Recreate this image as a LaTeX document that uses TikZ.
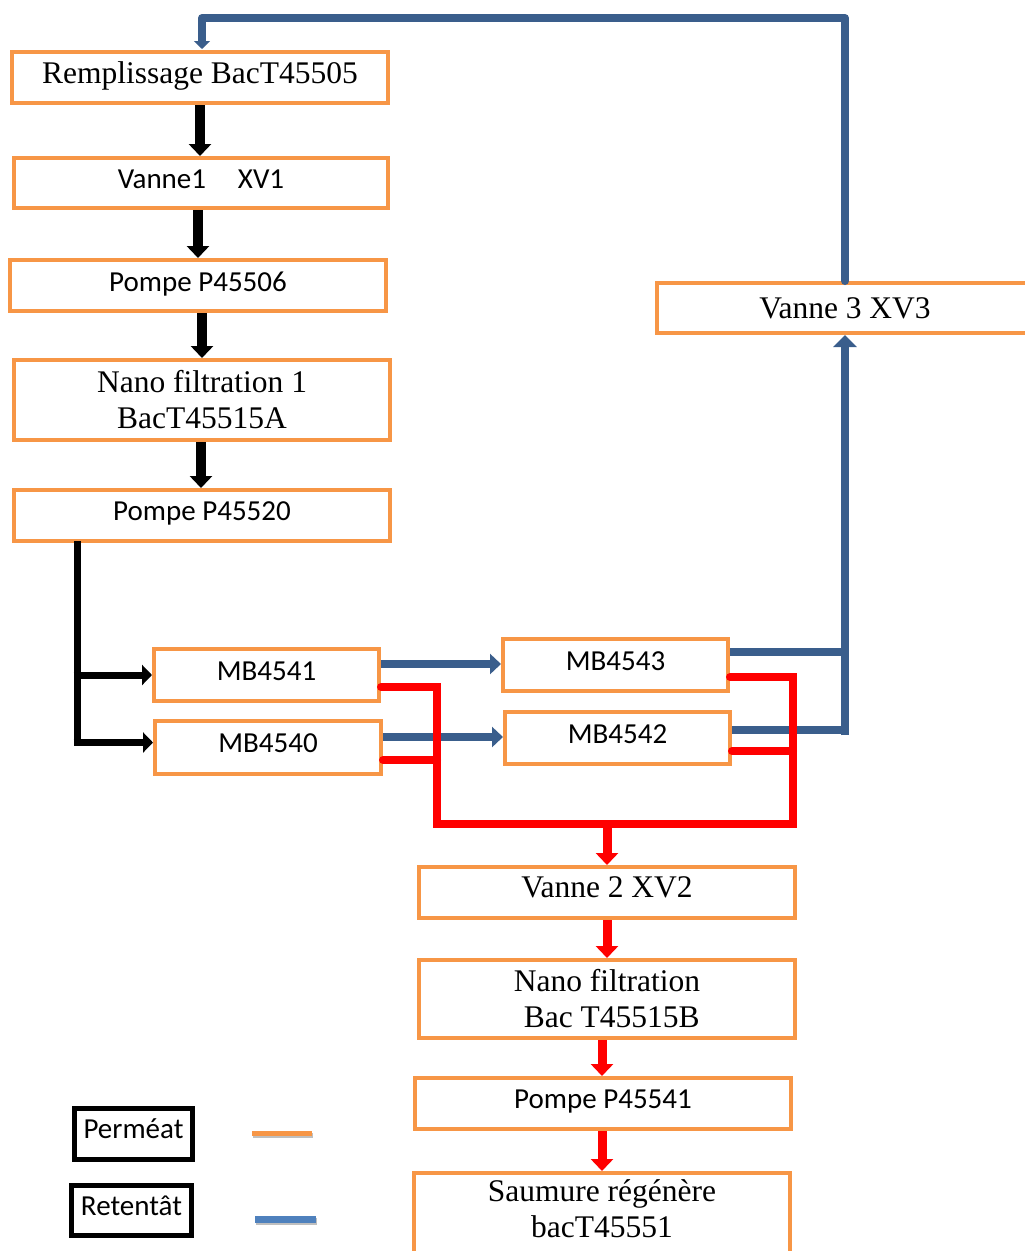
\documentclass[tikz,border=0pt]{standalone}
\usepackage{fontspec}
\setmainfont{Liberation Serif}
\newfontfamily\calfont{Carlito}
\usetikzlibrary{arrows.meta,calc}
\definecolor{orng}{RGB}{247,150,70}
\definecolor{dblue}{RGB}{58,94,140}
\definecolor{lblue}{RGB}{79,129,189}
\definecolor{rred}{RGB}{255,0,0}
\tikzset{
  box/.style={draw=orng, line width=4pt, fill=white, inner sep=0pt, align=center, minimum width=376pt, minimum height=51pt},
  serif/.style={font=\fontsize{31.5}{36}\selectfont},
  sans/.style={font=\calfont\fontsize{29}{34}\selectfont, text depth=8pt},
  legbox/.style={draw=black, line width=5pt, fill=white, inner sep=0pt, font=\calfont\fontsize{29}{34}\selectfont, text depth=10pt},
  blk/.style={draw=black, line width=10pt, -{Triangle[width=22pt,length=12pt]}},
  blkb/.style={draw=black, line width=7pt},
  blkbar/.style={draw=black, line width=7pt, -{Triangle[width=20pt,length=10pt]}},
  blu/.style={draw=dblue, line width=8pt},
  bluar/.style={draw=dblue, line width=8pt, -{Triangle[width=20pt,length=11pt]}},
  redl/.style={draw=rred, line width=8pt, line cap=round},
  redar/.style={draw=rred, line width=9pt, -{Triangle[width=22pt,length=12pt]}},
}
\begin{document}
\begin{tikzpicture}[x=1pt,y=-1pt]
\useasboundingbox (0,0) rectangle (1025,1251);
% nodes
\node[box, serif, minimum height=51pt, text depth=9pt] (rem) at (200,77.5) {Remplissage BacT45505};
\node[box, sans, minimum width=374pt, minimum height=50pt] (v1) at (201,183) {Vanne1\hspace{1.1em}XV1};
\node[box, sans] (p06) at (198,285.5) {Pompe P45506};
\node[box, serif, minimum height=80pt] (nf1) at (202,400) {Nano filtration 1\\BacT45515A};
\node[box, sans] (p20) at (202,515.5) {Pompe P45520};
\node[box, sans, minimum width=225pt, minimum height=52pt] (m41) at (266.5,675) {MB4541};
\node[box, sans, minimum width=226pt, minimum height=53pt] (m40) at (268,747.5) {MB4540};
\node[box, sans, minimum width=225pt, minimum height=52pt] (m43) at (615.5,665) {MB4543};
\node[box, sans, minimum width=225pt, minimum height=52pt] (m42) at (617.5,738) {MB4542};
\node[box, serif, minimum height=50pt] (v3) at (845,308) {Vanne 3 XV3};
\node[box, serif, text depth=10pt] (v2) at (607,892.5) {Vanne 2 XV2};
\node[box, serif, minimum height=78pt] (nf2) at (607,999) {Nano filtration\\\hspace{0.3em}Bac T45515B};
\node[box, sans] (p41) at (603,1103.5) {Pompe P45541};
\node[box, serif, minimum height=86pt] (sau) at (602,1216) {Saumure régénère\\bacT45551\rule[-14pt]{0pt}{14pt}};
\node[legbox, minimum width=118pt, minimum height=51pt] (perm) at (133.5,1134) {Perméat};
\node[legbox, minimum width=120pt, minimum height=50pt] (ret) at (131.5,1210.5) {Retentât};
% legend lines
\coordinate (lo1) at (252,1133); \coordinate (lo2) at (312,1133);
\coordinate (lb1) at (255,1219); \coordinate (lb2) at (316,1219);
\draw[draw=black!25, line width=5pt] ($(lo1)+(1,2)$) -- ($(lo2)+(1,2)$);
\draw[draw=orng, line width=5pt] (lo1) -- (lo2);
\draw[draw=black!25, line width=7pt] ($(lb1)+(1,2)$) -- ($(lb2)+(1,2)$);
\draw[draw=lblue, line width=7pt] (lb1) -- (lb2);
% black main column
\draw[blk] (rem.south) -- (rem.south |- v1.north);
\draw[blk] ($(v1.south)+(-3,0)$) -- ($(v1.south |- p06.north)+(-3,0)$);
\draw[blk] ($(p06.south)+(4,0)$) -- ($(p06.south |- nf1.north)+(4,0)$);
\draw[blk] ($(nf1.south)+(-1,0)$) -- ($(nf1.south |- p20.north)+(-1,0)$);
% black branch
\coordinate (bt) at (77,541);
\coordinate (bb) at (77,745);
\draw[blkb] (bt) -- (bb);
\draw[blkbar] ($(bt |- m41.west)+(-3.5,0)$) -- (m41.west);
\draw[blkbar] ($(bt |- m40.west)+(-3.5,-5)$) -- ($(m40.west)+(0,-5)$);
% blue arrows between MB
\coordinate (a41) at ($(m41.east)+(0,-11)$);
\coordinate (a40) at ($(m40.east)+(0,-10.5)$);
\draw[bluar] (a41) -- (a41 -| m43.west);
\draw[bluar] (a40) -- (a40 -| m42.west);
% blue to vanne 3
\coordinate (b43) at ($(m43.east)+(0,-13)$);
\coordinate (b42) at ($(m42.east)+(0,-8)$);
\coordinate (bx) at (v3.south |- b42);
\draw[blu] (b43) -- (b43 -| v3.south);
\draw[blu] (b42) -- ($(bx)+(4,0)$);
\draw[draw=dblue, line width=8pt, -{Triangle[width=23pt,length=12pt]}] ($(bx)+(0,5)$) -- (v3.south);
% blue return loop
\coordinate (t1) at (v3.north |- 0,18);
\coordinate (t2) at (202,18);
\draw[draw=dblue, line width=8pt, line cap=round, line join=round, -{Triangle[width=16pt,length=8pt]}] (v3.north) -- (t1) -- (t2) -- ($(t2 |- rem.north)+(0,-1)$);
% red lines
\coordinate (r41) at ($(m41.east)+(0,12)$);
\coordinate (r40) at ($(m40.east)+(0,12.5)$);
\coordinate (r43) at ($(m43.east)+(0,12)$);
\coordinate (r42) at ($(m42.east)+(0,13)$);
\coordinate (jl) at (437,824);
\coordinate (jr) at (793,824);
\draw[redl] (r41) -- (r41 -| jl) -- (jl) -- (jr) -- (jr |- r43) -- (r43);
\draw[redl] (r40) -- (r40 -| jl);
\draw[redl] (r42) -- (r42 -| jr);
\draw[redar] (jl -| v2.north) -- (v2.north);
\draw[redar] (v2.south) -- (v2.south |- nf2.north);
\draw[redar] ($(nf2.south)+(-5,0)$) -- ($(nf2.south |- p41.north)+(-5,0)$);
\draw[redar] ($(p41.south)+(-1,0)$) -- ($(p41.south |- sau.north)+(-1,0)$);
\end{tikzpicture}
\end{document}
